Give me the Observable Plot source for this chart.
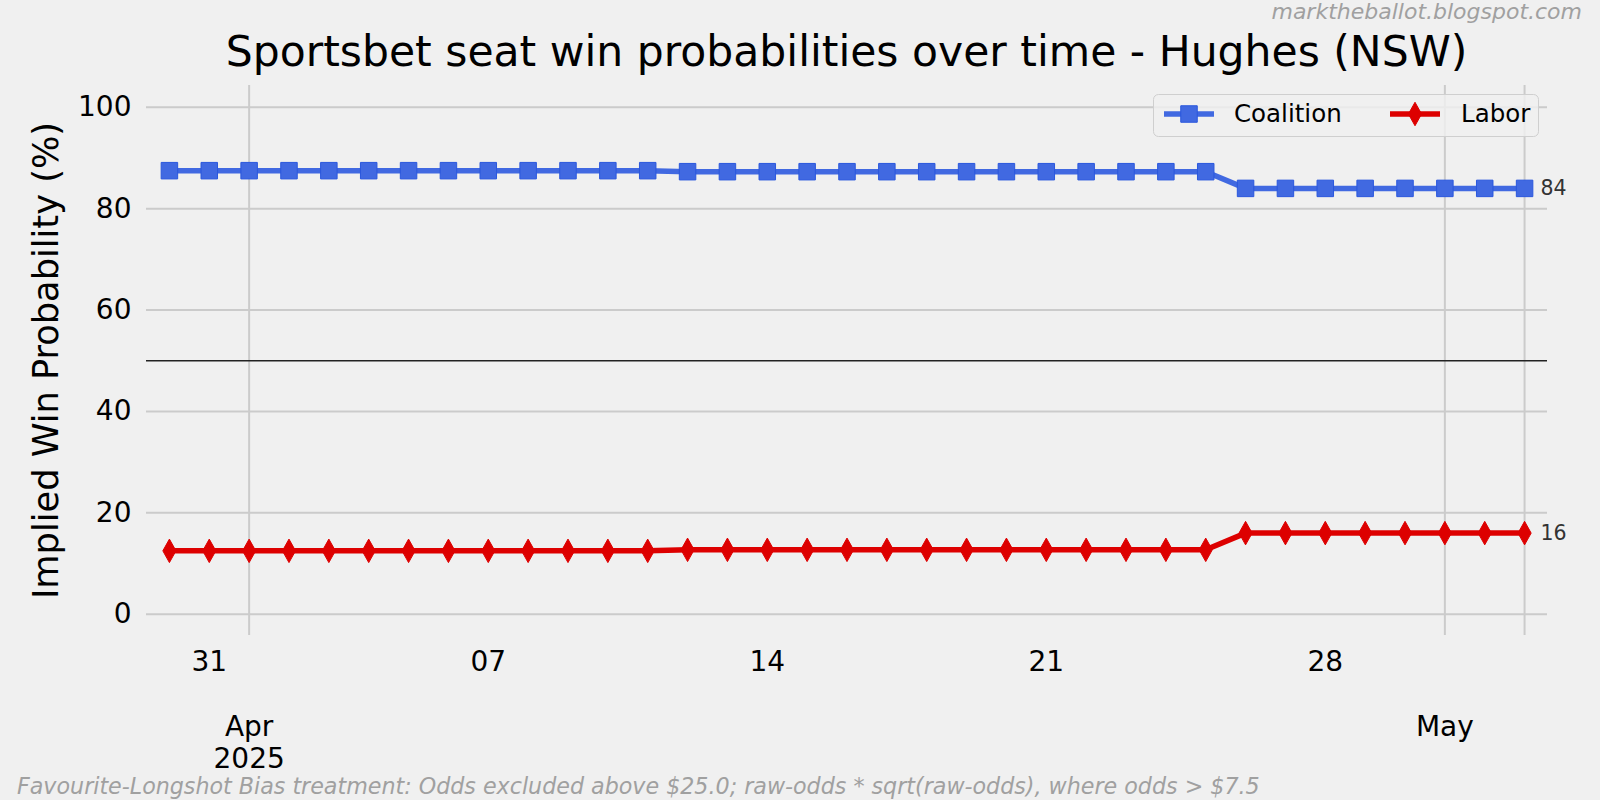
<!DOCTYPE html>
<html>
<head>
<meta charset="utf-8">
<script src="https://cdn.jsdelivr.net/npm/d3@7"></script>
<script src="https://cdn.jsdelivr.net/npm/@observablehq/plot@0.6"></script>
<style>
  html, body { margin: 0; padding: 0; background: #f0f0f0; }
  #wrap { position: relative; width: 1600px; height: 800px; background: #f0f0f0; overflow: hidden;
          font-family: "DejaVu Sans", sans-serif; }
  #chart { position: absolute; left: 0; top: 0; }
  .abs { position: absolute; white-space: nowrap; line-height: 1; }
  #title { left: 146px; width: 1401px; top: 30.5px; text-align: center; font-size: 42.5px; color: #000; }
  #mark { right: 18px; top: 1px; font-size: 22px; font-style: italic; color: #a0a0a0; }
  #foot { left: 17px; top: 775px; font-size: 22.2px; font-style: italic; color: #a0a0a0; }
  #legend { left: 1153px; top: 94px; }
</style>
</head>
<body>
<div id="wrap">
  <div id="chart"></div>
  <div id="title" class="abs"></div>
  <div id="mark" class="abs"></div>
  <div id="foot" class="abs"></div>
  <div id="legend" class="abs"></div>
</div>
<script>
// ---------------- data ----------------
const titleText = "Sportsbet seat win probabilities over time - Hughes (NSW)";
const watermark = "marktheballot.blogspot.com";
const footnote = "Favourite-Longshot Bias treatment: Odds excluded above $25.0; raw-odds * sqrt(raw-odds), where odds > $7.5";
const yLabel = "Implied Win Probability (%)";
const seriesNames = ["Coalition", "Labor"];
const seriesColors = ["#4169e1", "#dd0000"];

const dates = [
  "2025-03-30","2025-03-31","2025-04-01","2025-04-02","2025-04-03","2025-04-04","2025-04-05",
  "2025-04-06","2025-04-07","2025-04-08","2025-04-09","2025-04-10","2025-04-11","2025-04-12",
  "2025-04-13","2025-04-14","2025-04-15","2025-04-16","2025-04-17","2025-04-18","2025-04-19",
  "2025-04-20","2025-04-21","2025-04-22","2025-04-23","2025-04-24","2025-04-25","2025-04-26",
  "2025-04-27","2025-04-28","2025-04-29","2025-04-30","2025-05-01","2025-05-02","2025-05-03"
];
const coalition = [
  87.5,87.5,87.5,87.5,87.5,87.5,87.5,87.5,87.5,87.5,87.5,87.5,87.5,
  87.3,87.3,87.3,87.3,87.3,87.3,87.3,87.3,87.3,87.3,87.3,87.3,87.3,87.3,
  84.0,84.0,84.0,84.0,84.0,84.0,84.0,84.0
];
const labor = [
  12.5,12.5,12.5,12.5,12.5,12.5,12.5,12.5,12.5,12.5,12.5,12.5,12.5,
  12.7,12.7,12.7,12.7,12.7,12.7,12.7,12.7,12.7,12.7,12.7,12.7,12.7,12.7,
  16.0,16.0,16.0,16.0,16.0,16.0,16.0,16.0
];
const yTicks = [0, 20, 40, 60, 80, 100];
const minorTicks = ["2025-03-31","2025-04-07","2025-04-14","2025-04-21","2025-04-28"];
const majorTicks = ["2025-04-01","2025-05-01"];
const majorLabels = ["Apr\n2025", "May"];
const electionDay = ["2025-05-03"];
const midline = [50];

// ---------------- build ----------------
const parse = d3.utcParse("%Y-%m-%d");
const D = dates.map(parse);
const rows = D.map((d, i) => ({date: d, Coalition: coalition[i], Labor: labor[i]}));
const last = rows[rows.length - 1];
const endLabels = [
  {date: last.date, v: last.Coalition, t: String(Math.round(last.Coalition))},
  {date: last.date, v: last.Labor, t: String(Math.round(last.Labor))}
];
const majorD = majorTicks.map(parse);
const majorMap = new Map(majorD.map((d, i) => [+d, majorLabels[i]]));
const pad = 13.8 * 3600 * 1000;

const squareSym = {draw(ctx, size) { const r = Math.sqrt(size / Math.PI); ctx.rect(-r, -r, 2 * r, 2 * r); }};
const thinDiamond = {draw(ctx, size) {
  const r = Math.sqrt(size / Math.PI), w = r * 0.56;
  ctx.moveTo(0, -r); ctx.lineTo(w, 0); ctx.lineTo(0, r); ctx.lineTo(-w, 0); ctx.closePath();
}};

const grid = "#cbcbcb";
const chart = Plot.plot({
  width: 1600, height: 800,
  marginLeft: 146, marginRight: 53, marginTop: 85, marginBottom: 165,
  style: {background: "transparent", fontFamily: "DejaVu Sans, sans-serif", color: "#000", overflow: "visible"},
  x: {type: "utc", domain: [new Date(+D[0] - pad), new Date(+D[D.length - 1] + pad)]},
  y: {domain: [-4.2, 104.3]},
  marks: [
    Plot.gridY(yTicks, {stroke: grid, strokeOpacity: 1, strokeWidth: 2}),
    Plot.gridX(majorD, {stroke: grid, strokeOpacity: 1, strokeWidth: 2}),
    Plot.ruleX(electionDay.map(parse), {stroke: grid, strokeWidth: 2}),
    Plot.ruleY(midline, {stroke: "#222", strokeWidth: 1.4}),
    Plot.axisY(yTicks, {tickSize: 0, tickPadding: 15, fontSize: 28, tickFormat: d => String(d), label: null}),
    Plot.text([yLabel], {frameAnchor: "left", rotate: -90, dx: -100, fontSize: 35.2, fill: "#000",
      textAnchor: "middle", lineAnchor: "middle"}),
    Plot.axisX(minorTicks.map(parse), {tickSize: 0, tickPadding: 16, fontSize: 28,
      tickFormat: d3.utcFormat("%d"), label: null}),
    Plot.axisX(majorD, {tickSize: 0, tickPadding: 78, fontSize: 28, lineHeight: 1.13,
      tickFormat: d => majorMap.get(+d), label: null}),
    Plot.line(rows, {x: "date", y: "Coalition", stroke: seriesColors[0], strokeWidth: 5.5}),
    Plot.dot(rows, {x: "date", y: "Coalition", symbol: squareSym, r: 8.25, fill: seriesColors[0], stroke: "#2a57dd", strokeWidth: 1}),
    Plot.line(rows, {x: "date", y: "Labor", stroke: seriesColors[1], strokeWidth: 5.5}),
    Plot.dot(rows, {x: "date", y: "Labor", symbol: thinDiamond, r: 11.75, fill: seriesColors[1], stroke: seriesColors[1], strokeWidth: 1}),
    Plot.text(endLabels, {x: "date", y: "v", text: "t", dx: 16, textAnchor: "start", fontSize: 20.5, fill: "#333"})
  ]
});
document.getElementById("chart").appendChild(chart);

document.getElementById("title").textContent = titleText;
document.getElementById("mark").textContent = watermark;
document.getElementById("foot").textContent = footnote;

// legend
const lg = d3.select("#legend").append("svg").attr("width", 388).attr("height", 45)
  .style("font-family", "DejaVu Sans, sans-serif").style("overflow", "visible");
lg.append("rect").attr("x", 0.5).attr("y", 0.5).attr("width", 385).attr("height", 42).attr("rx", 5)
  .attr("fill", "rgba(240,240,240,0.8)").attr("stroke", "#cfcfcf").attr("stroke-width", 1);
const items = [
  {x: 11, sym: squareSym, r: 8.25, textX: 81},
  {x: 237, sym: thinDiamond, r: 11.75, textX: 308}
];
items.forEach((it, i) => {
  lg.append("line").attr("x1", it.x).attr("x2", it.x + 50).attr("y1", 20).attr("y2", 20)
    .attr("stroke", seriesColors[i]).attr("stroke-width", 5.5);
  lg.append("path").attr("transform", `translate(${it.x + 25},20)`)
    .attr("d", d3.symbol(it.sym, Math.PI * it.r * it.r)())
    .attr("fill", seriesColors[i]).attr("stroke", i === 0 ? "#2a57dd" : seriesColors[i]).attr("stroke-width", 1);
  lg.append("text").attr("x", it.textX).attr("y", 28).attr("font-size", 24.5).attr("fill", "#000").text(seriesNames[i]);
});
</script>
</body>
</html>
